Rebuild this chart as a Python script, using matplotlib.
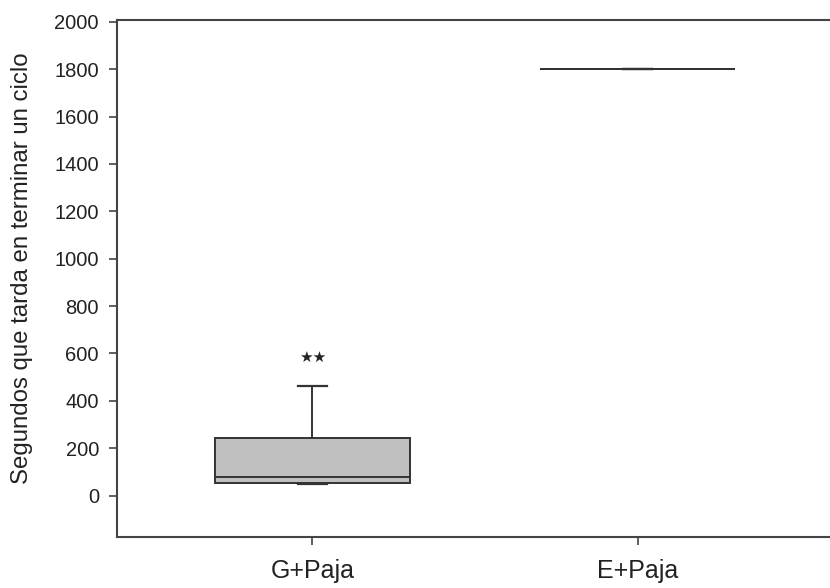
import matplotlib
matplotlib.use("Agg")
import matplotlib.pyplot as plt

# Data
categories = ["G+Paja", "E+Paja"]
whisker_low = [48, 1800]
q1 = [55, 1800]
median = [80, 1800]
q3 = [244, 1800]
whisker_high = [463, 1800]
annotation_text = ["★★", ""]
annotation_y = [582, None]
y_ticks = list(range(0, 2001, 200))

plt.rcParams['font.family'] = ['Liberation Sans', 'DejaVu Sans']

fig = plt.figure(figsize=(8.30, 5.88), dpi=100)
W, H = 830, 588
left, right, top, bottom = 117, 833, 20, 537
ax = fig.add_axes([left / W, (H - bottom) / H, (right - left) / W, (bottom - top) / H])

positions = [1, 2]
stats = []
for i, c in enumerate(categories):
    stats.append(dict(label=c, whislo=whisker_low[i], q1=q1[i], med=median[i],
                      q3=q3[i], whishi=whisker_high[i], fliers=[]))

edge = '#333333'
ax.bxp(stats, positions=positions, widths=0.6, patch_artist=True, showfliers=False,
       boxprops=dict(facecolor='#c0c0c0', edgecolor=edge, linewidth=1.4),
       medianprops=dict(color=edge, linewidth=1.4),
       whiskerprops=dict(color=edge, linewidth=1.4),
       capprops=dict(color=edge, linewidth=1.6),
       capwidths=0.09)

for i, t in enumerate(annotation_text):
    if t:
        ax.text(positions[i], annotation_y[i], t, ha='center', va='center',
                fontsize=11, color='#222222', family=['DejaVu Sans'])

ax.set_xlim(0.4, 2.6)
ax.set_ylim(-175, 2008)
ax.set_yticks(y_ticks)
ax.set_yticklabels([str(v) for v in y_ticks])
ax.set_xticks(positions)
ax.set_xticklabels(categories)

for s in ax.spines.values():
    s.set_color('#444444')
    s.set_linewidth(1.5)

ax.tick_params(axis='y', direction='out', length=6, width=1.2, color='#444444',
               labelsize=14.5, labelcolor='#222222', pad=7)
ax.tick_params(axis='x', direction='out', length=6, width=1.2, color='#444444',
               labelsize=18, labelcolor='#222222', pad=10)

ax.set_ylabel("Segundos que tarda en terminar un ciclo", fontsize=17.3, color='#222222')
ax.yaxis.set_label_coords((33 - 117) / 716, (537 - 268) / 517)

fig.savefig("out.png", dpi=100)
